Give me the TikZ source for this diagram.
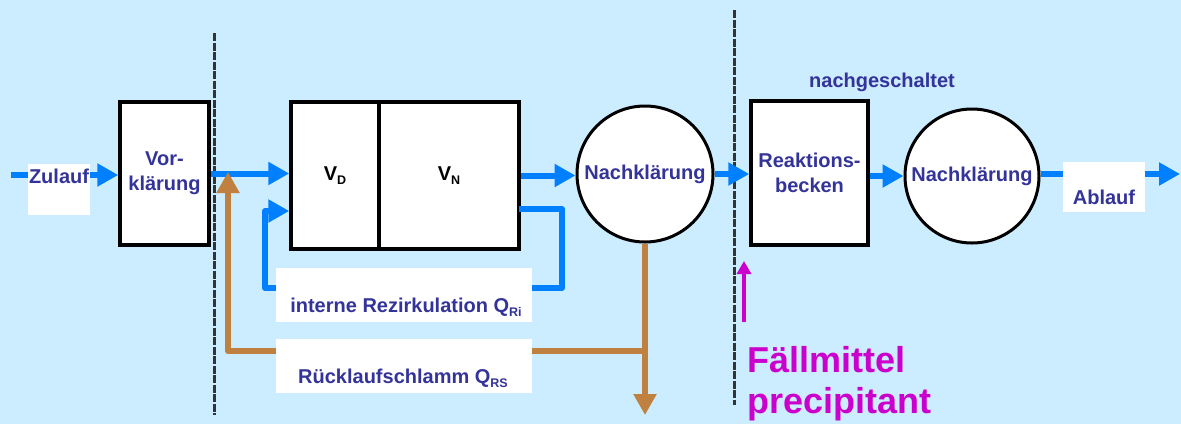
\documentclass[tikz,border=0pt]{standalone}
\usepackage{fontspec}
\setmainfont{Liberation Sans}
\usetikzlibrary{arrows.meta,calc}
\definecolor{bg}{HTML}{CCECFF}
\definecolor{tc}{HTML}{333399}
\definecolor{flowblue}{HTML}{0080FF}
\definecolor{sludge}{HTML}{C0803F}
\definecolor{prec}{HTML}{CC00CC}
\newcommand\subtxt[1]{\raisebox{-0.42ex}{\fontsize{12.5}{12.5}\selectfont #1}}
\begin{document}
\begin{tikzpicture}[x=1pt,y=-1pt,
  txt/.style={font=\fontsize{20}{25}\selectfont\bfseries, text=tc, inner sep=0pt},
  tank/.style={draw=black, line width=3.5pt, fill=white, inner sep=0pt, align=center,
    font=\fontsize{20}{25}\selectfont\bfseries, text=tc},
  circ/.style={circle, draw=black, line width=3pt, fill=white, inner sep=0pt,
    font=\fontsize{20}{25}\selectfont\bfseries, text=tc},
  lbl/.style={fill=white, draw=none, inner sep=0pt},
  barrow/.style={draw=flowblue, line width=6pt, -{Triangle[length=21pt,width=22pt]}},
  bline/.style={draw=flowblue, line width=6pt, line join=round},
  brarrow/.style={draw=sludge, line width=6pt, line join=round, -{Triangle[length=21pt,width=22pt]}},
  marrow/.style={draw=prec, line width=4pt, -{Triangle[length=13pt,width=14pt]}},
  sepline/.style={draw=black!80, line width=3pt, dash pattern=on 8pt off 1.5pt}
]
\fill[bg] (0,0) rectangle (1181,424);
\useasboundingbox (0,0) rectangle (1181,424);

% separator lines
\coordinate (s1t) at (214,33);
\coordinate (s1b) at (214,415);
\coordinate (s2t) at (734,10);
\coordinate (s2b) at (734,405);
\draw[sepline] (s1t) -- (s1b);
\draw[sepline] (s2t) -- (s2b);

% tanks
\node[tank, minimum width=89pt, minimum height=143pt] (vor) at (164.5,173.5) {Vor-\\klärung};
\node[tank, minimum width=88pt, minimum height=147pt, text=black] (vd) at (335,175.5) {V\subtxt{D}};
\node[tank, minimum width=140pt, minimum height=147pt, text=black] (vn) at (449,175.5) {V\subtxt{N}};
\node[circ, minimum size=136pt] (c1) at (645,174) {Nachklärung};
\node[tank, minimum width=117pt, minimum height=144pt] (rb) at (809.5,173) {Reaktions-\\becken};
\node[circ, minimum size=134pt] (c2) at (972,176) {Nachklärung};

% main flow
\coordinate (zin) at (11,175);
\draw[barrow] (zin) -- (zin -| vor.west);
\draw[barrow] (vor.east) -- (vor.east -| vd.west);
\draw[barrow] (vn.east) -- (vn.east -| c1.west);
\draw[barrow] (c1.east) -- (c1.east -| rb.west);
\draw[barrow] (c2.west -| rb.east) -- (c2.west);
\coordinate (aus) at (1180,174);
\draw[barrow] (c2.east |- aus) -- (aus);

% internal recirculation
\coordinate (ir0) at (519,209);
\coordinate (ir1) at (562,209);
\coordinate (ir2) at (562,288);
\coordinate (ir3) at (265,288);
\coordinate (ir4) at (265,211);
\draw[bline, -{Triangle[length=21pt,width=22pt]}] (ir0) -- (ir1) -- (ir2) -- (ir3) -- (ir4) -- (ir4 -| vd.west);

% return sludge
\coordinate (rsout) at (645,415);
\coordinate (rs1) at (645,351);
\coordinate (rs2) at (228,351);
\coordinate (rstip) at (228,172);
\draw[brarrow] (c1.south) -- (rsout);
\draw[brarrow] (rs1) -- (rs2) -- (rstip);

% precipitant
\coordinate (pm0) at (744,322);
\coordinate (pm1) at (744,261);
\draw[marrow] (pm0) -- (pm1);

% label boxes
\node[lbl, minimum width=62pt, minimum height=51pt] (zulbox) at (59,189.5) {};
\node[txt, anchor=base] (zul) at (59,183) {Zulauf};
\node[lbl, minimum width=82pt, minimum height=50pt] (ablbox) at (1104,187) {};
\node[txt, anchor=base] (abl) at (1104,204) {Ablauf};
\node[lbl, minimum width=256pt, minimum height=54pt] (irbox) at (404,295) {};
\node[txt, anchor=base] (irtxt) at (406,312) {interne Rezirkulation Q\subtxt{Ri}};
\node[lbl, minimum width=256pt, minimum height=54pt] (rsbox) at (404,366) {};
\node[txt, anchor=base] (rstxt) at (403,383) {Rücklaufschlamm Q\subtxt{RS}};
\node[txt, anchor=base] (nach) at (882,87) {nachgeschaltet};
\node[anchor=base west, inner sep=0pt, font=\fontsize{36}{41}\selectfont\bfseries, text=prec] (fm) at (747,372) {Fällmittel};
\node[anchor=base west, inner sep=0pt, font=\fontsize{36}{41}\selectfont\bfseries, text=prec] (pc) at (747,413) {precipitant};
\end{tikzpicture}
\end{document}
